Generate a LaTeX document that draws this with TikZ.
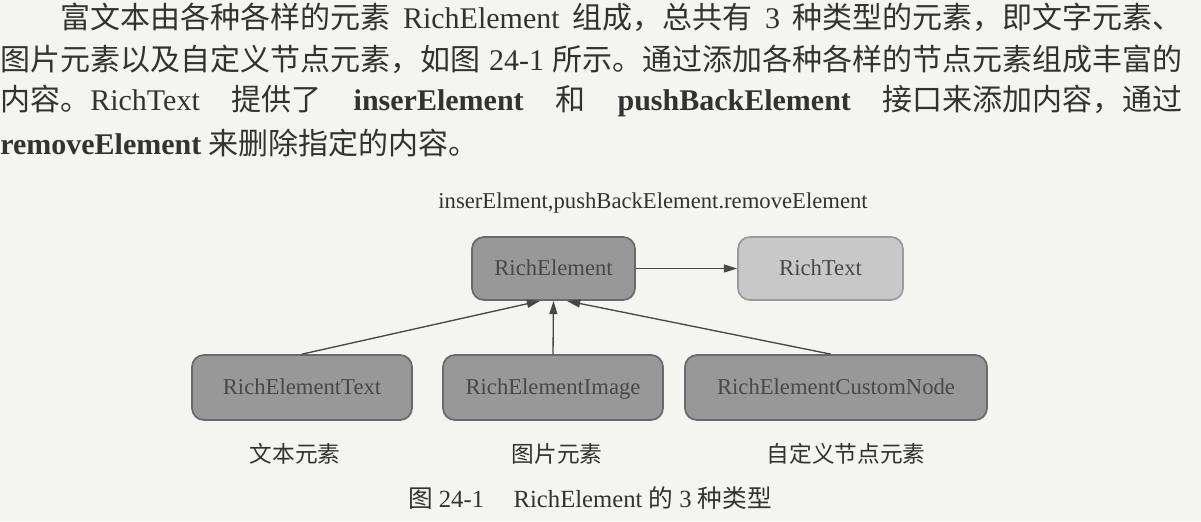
\documentclass[tikz,border=0pt]{standalone}
\usepackage{fontspec}
\setmainfont{Liberation Serif}
\newfontfamily\cjk{Noto Sans CJK SC}
\usetikzlibrary{arrows.meta, positioning}
\definecolor{paper}{RGB}{244, 244, 241}
\definecolor{boxgray}{RGB}{152, 152, 152}
\definecolor{boxedge}{RGB}{105, 105, 105}
\definecolor{lightbox}{RGB}{200, 200, 200}
\definecolor{lightedge}{RGB}{155, 155, 155}
\definecolor{inkgray}{RGB}{50, 50, 50}
\definecolor{boxink}{RGB}{72, 72, 72}
\newcommand{\zh}[1]{{\cjk #1}}
\XeTeXlinebreaklocale "zh"
\XeTeXlinebreakskip=0pt plus 1pt

\begin{document}
\begin{tikzpicture}[x=0.75pt, y=-0.75pt,
  bodytext/.style={anchor=west, inner sep=0pt, text=inkgray, font=\fontsize{22.5}{30}\selectfont},
  elembox/.style={draw=boxedge, fill=boxgray, line width=1.3pt, rounded corners=9pt, text=boxink,
    minimum width=165pt, minimum height=48.75pt, text height=12pt, text depth=1pt,
    font=\fontsize{17}{20}\selectfont},
  textbox/.style={elembox, draw=lightedge, fill=lightbox},
  conn/.style={draw=inkgray!90, line width=1pt, -{Triangle[length=10pt, width=6pt]}},
  zhlabel/.style={text=inkgray, font=\fontsize{17}{20}\selectfont}]
  \useasboundingbox[fill=paper] (0,0) rectangle (1201,521);

  % Paragraph above the figure
  \node[bodytext] (line1) at (0,17) {\makebox[887pt][s]{\hspace{2em}\zh{富文本由各种各样的元素} RichElement \zh{组成，总共有} 3 \zh{种类型的元素，即文字元素、}}};
  \node[bodytext] (line2) at (0,59) {\makebox[887pt][s]{\zh{图片元素以及自定义节点元素，如图} 24-1 \zh{所示。通过添加各种各样的节点元素组成丰富的}}};
  \node[bodytext] (line3) at (0,101) {\makebox[887pt][s]{\zh{内容。}RichText \zh{提供了} \textbf{inserElement} \zh{和} \textbf{pushBackElement} \zh{接口来添加内容，通过}}};
  \node[bodytext] (line4) at (0,143) {\textbf{removeElement} \zh{来删除指定的内容。}};

  % The figure
  \node[zhlabel] (api) at (653,203) {inserElment,pushBackElement.removeElement};
  \node[elembox, minimum width=122.25pt, minimum height=47.25pt] (relem) at (553.5,268.5) {RichElement};
  \node[textbox, minimum width=123.75pt, minimum height=47.25pt] (rtext) at (820.5,268.5) {RichText};

  \node[elembox] (etext) at (302,387.5) {RichElementText};
  \node[elembox] (eimage) at (553,387.5) {RichElementImage};
  \node[elembox, minimum width=226.5pt] (ecustom) at (836,387.5) {RichElementCustomNode};

  \draw[conn] (relem) -- (rtext);
  \draw[conn] (etext.north) -- ([xshift=-10pt]relem.south);
  \draw[conn] (eimage.north) -- (relem.south);
  \draw[conn] ([xshift=-4pt]ecustom.north) -- ([xshift=10pt]relem.south);

  % Kinds of element
  \node[zhlabel] (ltext) at (295,454) {\zh{文本元素}};
  \node[zhlabel] (limage) at (557,454) {\zh{图片元素}};
  \node[zhlabel] (lcustom) at (846,454) {\zh{自定义节点元素}};

  % Caption
  \node[zhlabel, font=\fontsize{18.5}{20}\selectfont] (caption) at (590,498) {\zh{图} 24-1\hspace{1.2em}RichElement \zh{的} 3 \zh{种类型}};
\end{tikzpicture}
\end{document}
